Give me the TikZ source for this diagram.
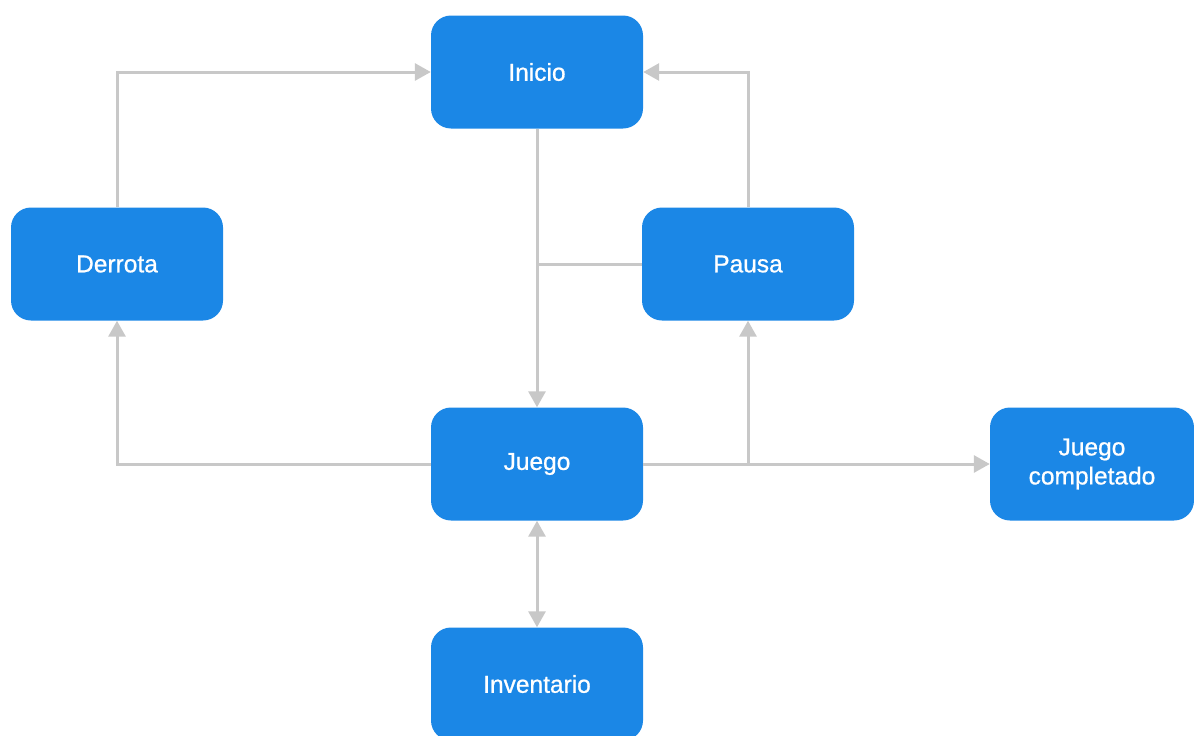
\documentclass[tikz,border=0pt]{standalone}
\usepackage{fontspec}
\setmainfont{Liberation Sans}
\newfontfamily\medfont{Liberation Sans}[FakeBold=0.8]
\usetikzlibrary{arrows.meta}
\definecolor{boxblue}{HTML}{1B87E6}
\definecolor{linegray}{HTML}{C8C8C8}
\tikzset{
  state/.style={rectangle, rounded corners=20pt, fill=boxblue, text=white,
    minimum width=212pt, minimum height=113pt, inner sep=0pt, align=center,
    font=\medfont\fontsize{24.5}{29}\selectfont},
  conn/.style={draw=linegray, line width=3pt, -{Triangle[length=16pt,width=17pt]}},
  plain/.style={draw=linegray, line width=3pt},
}
\begin{document}
\begin{tikzpicture}[x=1pt,y=-1pt]
\useasboundingbox (0,0) rectangle (1194,736);
\begin{scope}
\clip (0,0) rectangle (1194,736);
\node[state] (inicio) at (537,72) {Inicio};
\node[state] (derrota) at (117,264) {Derrota};
\node[state] (pausa) at (748,264) {Pausa};
\node[state] (juego) at (537,464) {Juego};
\node[state, minimum width=204pt] (fin) at (1092,464) {Juego\\completado};
\node[state] (inv) at (537,684) {Inventario};
\end{scope}
\draw[conn] (derrota.north) |- (inicio.west);
\draw[conn] (pausa.north) |- (inicio.east);
\draw[conn] (inicio.south) -- (juego.north);
\draw[plain] (pausa.west) -- (pausa.west -| inicio.south);
\draw[conn] (juego.west) -| (derrota.south);
\draw[conn] (juego.east) -| (pausa.south);
\draw[conn] (juego.east) -- (fin.west);
\draw[conn, {Triangle[length=16pt,width=17pt]}-{Triangle[length=16pt,width=17pt]}] (juego.south) -- (inv.north);
\end{tikzpicture}
\end{document}
